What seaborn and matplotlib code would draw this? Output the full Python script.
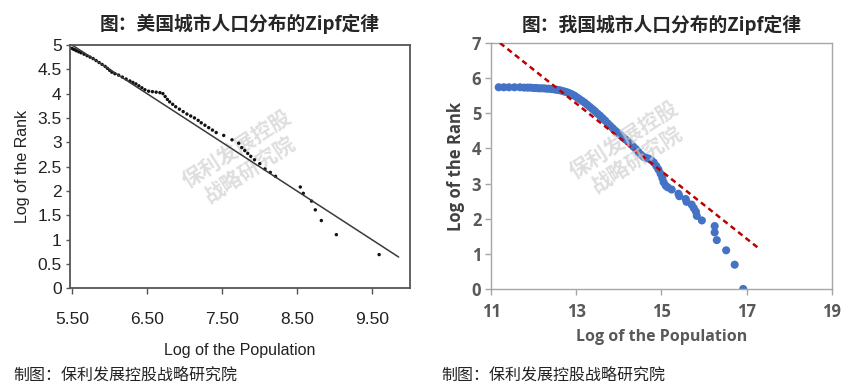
import matplotlib
matplotlib.use("Agg")
import matplotlib.pyplot as plt
import seaborn as sns

# US cities: log population vs log rank
us_logpop = [5.50, 5.52, 5.54, 5.56, 5.59, 5.62, 5.66, 5.70, 5.74, 5.78, 5.82, 5.86,
             5.90, 5.94, 5.97, 6.00, 6.03, 6.07, 6.12, 6.17, 6.22, 6.27, 6.31, 6.35,
             6.39, 6.43, 6.47, 6.52, 6.57, 6.62, 6.67, 6.71, 6.74, 6.77, 6.80, 6.84,
             6.88, 6.93, 6.98, 7.03, 7.08, 7.13, 7.18, 7.22, 7.27, 7.32, 7.37, 7.42,
             7.52, 7.63, 7.72, 7.76, 7.80, 7.84, 7.88, 7.93, 8.00, 8.07, 8.14, 8.21,
             8.54, 8.58, 8.69, 8.74, 8.82, 9.02, 9.59]
us_logrank = [4.93, 4.91, 4.90, 4.88, 4.86, 4.84, 4.81, 4.78, 4.75, 4.72, 4.68, 4.64,
              4.60, 4.56, 4.52, 4.48, 4.44, 4.41, 4.38, 4.34, 4.30, 4.26, 4.23, 4.20,
              4.16, 4.12, 4.08, 4.05, 4.04, 4.03, 4.02, 4.00, 3.94, 3.88, 3.83, 3.78,
              3.73, 3.68, 3.63, 3.58, 3.54, 3.50, 3.45, 3.40, 3.35, 3.30, 3.25, 3.20,
              3.14, 3.05, 2.98, 2.89, 2.83, 2.77, 2.71, 2.64, 2.56, 2.45, 2.38, 2.30,
              2.08, 1.95, 1.79, 1.61, 1.39, 1.10, 0.69]
us_fit_x = [5.50, 9.85]
us_fit_y = [5.00, 0.64]

# Chinese cities
cn_logpop = [11.18, 11.30, 11.42, 11.55, 11.68, 11.78, 11.86, 11.93, 12.00, 12.06,
             12.12, 12.18, 12.24, 12.30, 12.36, 12.42, 12.48, 12.54, 12.60, 12.66,
             12.72, 12.78, 12.84, 12.90, 12.96, 13.02, 13.08, 13.14, 13.20, 13.26,
             13.32, 13.38, 13.44, 13.50, 13.56, 13.62, 13.68, 13.74, 13.80, 13.86,
             13.92, 13.98, 14.04, 14.10, 14.16, 14.22, 14.28, 14.34, 14.40, 14.46,
             14.52, 14.58, 14.64, 14.70, 14.76, 14.82, 14.88, 14.93, 14.98, 15.02,
             15.05, 15.10, 15.15, 15.24, 15.40, 15.42, 15.57, 15.59, 15.71, 15.76,
             15.81, 15.83, 15.95, 16.25, 16.25, 16.30, 16.52, 16.72, 16.92]
cn_logrank = [5.74, 5.74, 5.74, 5.74, 5.74, 5.73, 5.73, 5.73, 5.72, 5.72,
              5.71, 5.71, 5.71, 5.70, 5.70, 5.69, 5.68, 5.67, 5.66, 5.64,
              5.62, 5.60, 5.57, 5.54, 5.50, 5.45, 5.40, 5.35, 5.30, 5.24,
              5.18, 5.12, 5.06, 4.99, 4.93, 4.86, 4.79, 4.71, 4.64, 4.57,
              4.50, 4.44, 4.38, 4.31, 4.25, 4.19, 4.12, 4.05, 3.98, 3.90,
              3.82, 3.76, 3.73, 3.71, 3.67, 3.60, 3.50, 3.40, 3.28, 3.16,
              3.04, 2.94, 2.89, 2.83, 2.71, 2.64, 2.56, 2.48, 2.40, 2.30,
              2.20, 2.08, 1.95, 1.79, 1.61, 1.39, 1.10, 0.69, 0.00]
cn_fit_x = [11.21, 17.27]
cn_fit_y = [7.00, 1.17]

us_xticks = [5.5, 6.5, 7.5, 8.5, 9.5]
us_yticks = [0, 0.5, 1, 1.5, 2, 2.5, 3, 3.5, 4, 4.5, 5]
cn_xticks = [11, 13, 15, 17, 19]
cn_yticks = [0, 1, 2, 3, 4, 5, 6, 7]

titles = ["图：美国城市人口分布的Zipf定律", "图：我国城市人口分布的Zipf定律"]
source = "制图：保利发展控股战略研究院"
watermark = "保利发展控股\n战略研究院"

sns.set_theme(style="white")
plt.rcParams['font.family'] = ['Noto Sans CJK SC', 'DejaVu Sans']

fig = plt.figure(figsize=(8.54, 3.91), dpi=100)
ax1 = fig.add_axes([0.082, 0.263, 0.398, 0.622])
ax2 = fig.add_axes([0.575, 0.261, 0.399, 0.629])

# ---- left: US ----
sns.lineplot(x=us_fit_x, y=us_fit_y, ax=ax1, color="#3a3a3a", linewidth=1.1)
sns.scatterplot(x=us_logpop, y=us_logrank, ax=ax1, color="#111111", s=6,
                edgecolor="none")
ax1.set_xlim(5.473, 10.0)
ax1.set_ylim(0, 5)
ax1.set_xticks(us_xticks)
ax1.set_xticklabels([f"{v:.2f}" for v in us_xticks])
ax1.set_yticks(us_yticks)
ax1.set_yticklabels([f"{v:g}" for v in us_yticks])
for lab in ax1.get_xticklabels() + ax1.get_yticklabels():
    lab.set_family(['Liberation Sans', 'DejaVu Sans'])
    lab.set_fontsize(12.5)
    lab.set_color("#222222")
ax1.tick_params(axis="x", direction="out", length=4, width=1, pad=13, color="#555555", bottom=True)
ax1.tick_params(axis="y", direction="out", length=3, width=1, pad=3, color="#555555", left=True)
for sp in ax1.spines.values():
    sp.set_color("#555555")
    sp.set_linewidth(1.3)
ax1.set_xlabel("Log of the Population", family=['Liberation Sans', 'DejaVu Sans'],
               fontsize=11.5, color="#222222", labelpad=12)
ax1.set_ylabel("Log of the Rank", family=['Liberation Sans', 'DejaVu Sans'],
               fontsize=11.5, color="#222222", labelpad=5)
ax1.set_title(titles[0], fontsize=13.5, fontweight="bold", pad=11)
ax1.text(0.51, 0.53, watermark, transform=ax1.transAxes, rotation=33,
         ha="center", va="center", fontsize=15, fontweight="bold",
         color="#d0d0d0", alpha=0.7, linespacing=1.1, zorder=0.5)

# ---- right: China ----
sns.scatterplot(x=cn_logpop, y=cn_logrank, ax=ax2, color="#4472C4", s=34,
                edgecolor="none", zorder=2)
sns.lineplot(x=cn_fit_x, y=cn_fit_y, ax=ax2, color="#C00000", linewidth=1.8,
             linestyle=(0, (2.2, 1.6)), zorder=3)
ax2.set_xlim(11, 19)
ax2.set_ylim(0, 7)
ax2.set_xticks(cn_xticks)
ax2.set_yticks(cn_yticks)
for lab in ax2.get_xticklabels() + ax2.get_yticklabels():
    lab.set_family(['Open Sans', 'DejaVu Sans'])
    lab.set_fontsize(12)
    lab.set_fontweight("bold")
    lab.set_color("#595959")
ax2.tick_params(axis="x", direction="out", length=4, width=1, pad=6, color="#a6a6a6", bottom=True)
ax2.tick_params(axis="y", direction="out", length=4, width=1, pad=3, color="#a6a6a6", left=True)
for sp in ax2.spines.values():
    sp.set_color("#a6a6a6")
    sp.set_linewidth(1.0)
ax2.set_xlabel("Log of the Population", family=['Open Sans', 'DejaVu Sans'],
               fontsize=11.5, fontweight="bold", color="#595959", labelpad=6)
ax2.set_ylabel("Log of the Rank", family=['Open Sans', 'DejaVu Sans'],
               fontsize=12, fontweight="bold", color="#404040", labelpad=5)
ax2.set_title(titles[1], fontsize=13.5, fontweight="bold", pad=9)
ax2.text(0.41, 0.565, watermark, transform=ax2.transAxes, rotation=33,
         ha="center", va="center", fontsize=15, fontweight="bold",
         color="#d0d0d0", alpha=0.7, linespacing=1.1, zorder=4)

fig.text(0.016, 0.041, source, fontsize=11.5, color="#222222", ha="left", va="center")
fig.text(0.517, 0.041, source, fontsize=11.5, color="#222222", ha="left", va="center")

fig.savefig("out.png", dpi=100)
